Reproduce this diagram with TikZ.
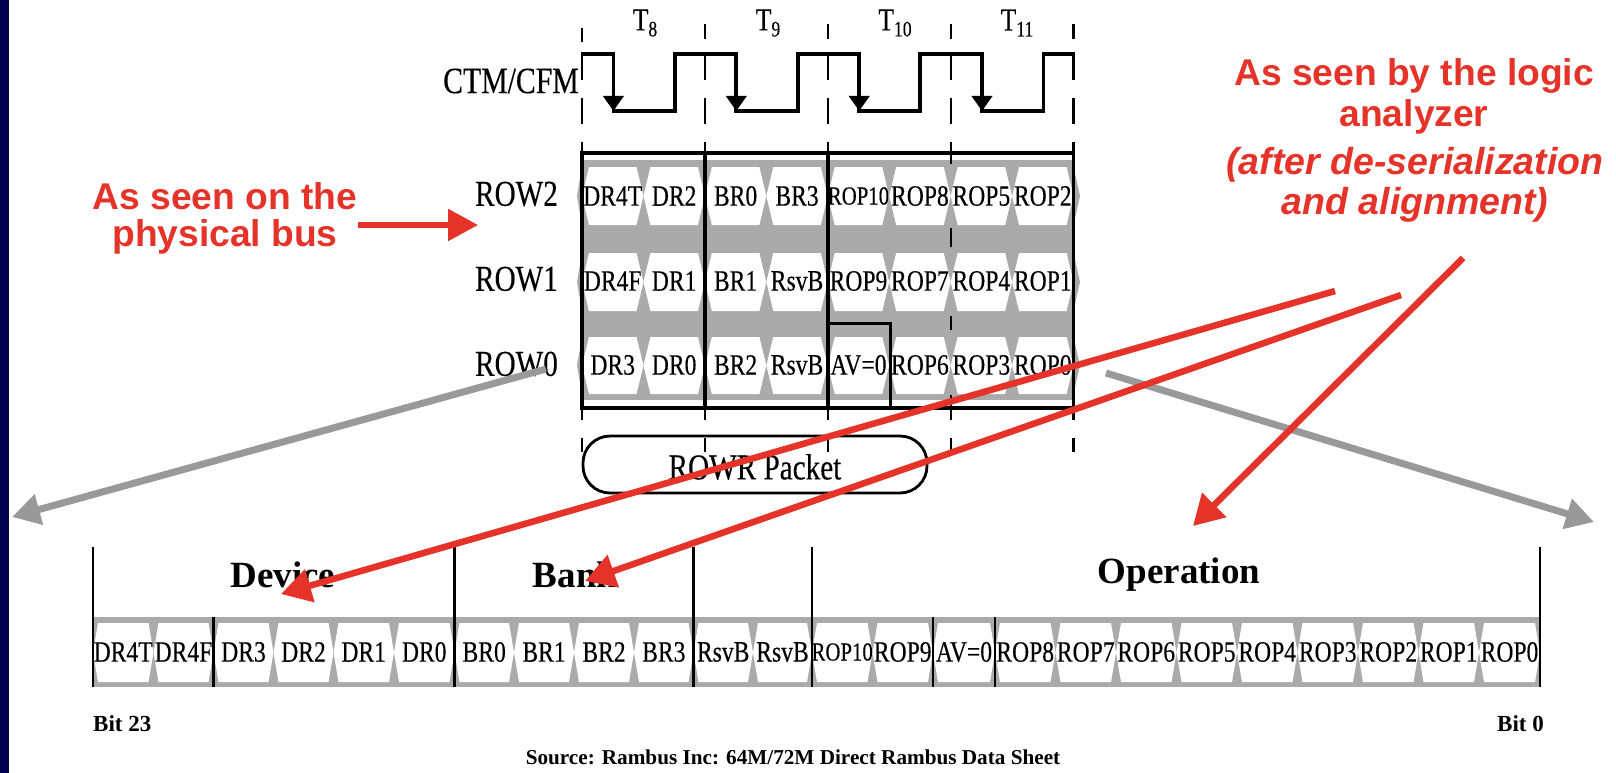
\documentclass[tikz,border=0pt]{standalone}
\usepackage{fontspec}
\usetikzlibrary{arrows.meta}
\setmainfont{Liberation Serif}
\newfontfamily\sq[FakeStretch=0.8,FakeBold=0.25]{Liberation Serif}
\newfontfamily\ar{Liberation Sans}
\definecolor{navy}{RGB}{0,0,80}
\definecolor{redx}{RGB}{230,51,41}
\definecolor{grayband}{RGB}{170,170,170}
\definecolor{grayarrow}{RGB}{153,153,153}
\newcommand{\fs}[1]{\fontsize{#1}{#1}\selectfont}
\newcommand{\tsub}[1]{\sq\fs{32}T\raisebox{-6pt}{\fs{22}#1}}
\tikzset{
  cell/.style={inner sep=0pt,font=\sq\fs{29.5}},
  cellsmall/.style={inner sep=0pt,font=\sq\fs{26}},
  rowlab/.style={inner sep=0pt,font=\sq\fs{36.5}},
  ctmlab/.style={inner sep=0pt,font=\sq\fs{37.2}},
  head/.style={inner sep=0pt,font=\bfseries\fs{37}},
  bitlab/.style={inner sep=0pt,font=\bfseries\fs{23}},
  redlab/.style={inner sep=0pt,text=redx,font=\ar\bfseries\fs{37.2}},
  redit/.style={inner sep=0pt,text=redx,font=\ar\bfseries\itshape\fs{37.5}},
  clock/.style={line width=3.8pt,line cap=butt,line join=miter},
  thickline/.style={line width=3.6pt},
  dashline/.style={line width=2.4pt},
  divider/.style={line width=2.4pt},
  redarrow/.style={draw=redx,line width=6.5pt,-{Triangle[length=30pt,width=33pt]}},
  redshort/.style={draw=redx,line width=5.5pt,-{Triangle[length=30pt,width=31pt]}},
  grayarr/.style={draw=grayarrow,line width=7pt,-{Triangle[length=28pt,width=30pt]}},
  clockarr/.style={line width=3.8pt,-{Triangle[length=15pt,width=20pt]}}
}
\begin{document}
\begin{tikzpicture}[x=1pt,y=-1pt]
\useasboundingbox (0,0) rectangle (1616,773);
\fill[white] (0,0) rectangle (1616,773);
\fill[navy] (0,0) rectangle (9,773);

% upper gray band and hexagons
\fill[grayband] (582,160) rectangle (1073.5,400);
\foreach \t/\m/\bt in {167/196/225,253/282/311,337/365.5/394}{
  \fill[grayband] (582,\t) -- (577,\m) -- (582,\bt) -- cycle;
  \fill[grayband] (1073.5,\t) -- (1080,\m) -- (1073.5,\bt) -- cycle;
  \foreach \i in {0,...,7}{
    \fill[white] ({582+61.44*\i},\m) -- ({589+61.44*\i},\t) -- ({636.5+61.44*\i},\t) -- ({643.44+61.44*\i},\m) -- ({636.5+61.44*\i},\bt) -- ({589+61.44*\i},\bt) -- cycle;
  }
}

% lower band and hexagons
\fill[grayband] (93,617) rectangle (1540,687);
\foreach \a/\b in {93/153.5,153.5/213.5,213.5/273.5,273.5/333.5,333.5/394,394/454.5,454.5/514,514/574,574/634,634/693.5,693.5/753,753/812,812/872.5,872.5/933,933/995,995/1055.5,1055.5/1116,1116/1176.5,1176.5/1237,1237/1297.5,1297.5/1358,1358/1418.5,1418.5/1479,1479/1540}{
  \fill[white] (\a,652.5) -- (\a+5,623) -- (\b-5,623) -- (\b,652.5) -- (\b-5,682) -- (\a+5,682) -- cycle;
}

% dashed time lines
\foreach \x/\aa/\ab in {582/28/42,705/24/39,828/24/39,951/24/39,1073.5/24/39}{
  \draw[dashline] (\x,\aa) -- (\x,\ab);
  \draw[dashline] (\x,56) -- (\x,80);
  \draw[dashline] (\x,98) -- (\x,124);
  \draw[dashline] (\x,142) -- (\x,153);
  \draw[dashline] (\x,408) -- (\x,420);
  \draw[dashline] (\x,438) -- (\x,452);
}
\draw[dashline] (951,153) -- (951,164);
\draw[dashline] (951,228) -- (951,247);
\draw[dashline] (951,316) -- (951,330);
\draw[dashline] (951,395) -- (951,408);

% clock
\draw[clock] (581,54) -- (613.4,54) -- (613.4,111) -- (674.8,111) -- (674.8,54) -- (736.3,54) -- (736.3,111) -- (797.7,111) -- (797.7,54) -- (859.2,54) -- (859.2,111) -- (919.8,111) -- (919.8,54) -- (982,54) -- (982,111) -- (1043.5,111) -- (1043.5,54) -- (1075,54);
\foreach \x/\n in {613.4/a,736.3/b,859.2/c,982/d}{
  \coordinate (ck\n s) at (\x,70);
  \coordinate (ck\n e) at (\x,111);
  \draw[clockarr] (ck\n s) -- (ck\n e);
}

% timing box
\draw[thickline] (580.3,153) -- (1075.2,153);
\draw[thickline] (580.3,408) -- (1075.2,408);
\foreach \x in {582,705,828,1073.5}{ \draw[thickline] (\x,153) -- (\x,408); }
\draw[line width=3pt] (828,323) -- (890,323) -- (890,408);

% labels
\node[inner sep=0pt] (t8) at (645,23) {\tsub{8}};
\node[inner sep=0pt] (t9) at (768,23) {\tsub{9}};
\node[inner sep=0pt] (t10) at (895,23) {\tsub{10}};
\node[inner sep=0pt] (t11) at (1017,23) {\tsub{11}};
\node[ctmlab,anchor=east] (ctm) at (579,81) {CTM/CFM};
\node[rowlab] (row2) at (516.5,194) {ROW2};
\node[rowlab] (row1) at (516.5,279) {ROW1};
\node[rowlab] (row0) at (516.5,364) {ROW0};

\foreach \i/\t in {0/DR4T,1/DR2,2/BR0,3/BR3,5/ROP8,6/ROP5,7/ROP2}{
  \node[cell] (rb\i) at ({612.7+61.44*\i},196) {\t};
}
\node[cellsmall] (rb4) at (858.5,196) {ROP10};
\foreach \i/\t in {0/DR4F,1/DR1,2/BR1,3/RsvB,4/ROP9,5/ROP7,6/ROP4,7/ROP1}{
  \node[cell] (ra\i) at ({612.7+61.44*\i},281) {\t};
}
\foreach \i/\t in {0/DR3,1/DR0,2/BR2,3/RsvB,4/AV=0,5/ROP6,6/ROP3,7/ROP0}{
  \node[cell] (rz\i) at ({612.7+61.44*\i},365) {\t};
}

\foreach \c/\t [count=\n] in {123.2/DR4T,183.5/DR4F,243.5/DR3,303.5/DR2,363.7/DR1,424.2/DR0,484.2/BR0,544/BR1,604/BR2,663.8/BR3,723.2/RsvB,782.5/RsvB,902.7/ROP9,964/AV=0,1025.2/ROP8,1085.7/ROP7,1146.2/ROP6,1206.7/ROP5,1267.2/ROP4,1327.7/ROP3,1388.2/ROP2,1448.7/ROP1,1509.5/ROP0}{
  \node[cell] (low\n) at (\c,652) {\t};
}
\node[cellsmall] (lowrop) at (842.2,652) {ROP10};

% lower dividers
\foreach \x in {93,454.5,693.5,812,1540}{ \draw[divider] (\x,547) -- (\x,687); }
\foreach \x in {213.5,933,995}{ \draw[divider] (\x,617) -- (\x,687); }
\node[head] (device) at (283,575) {Device};
\node[head] (bank) at (575,575) {Bank};
\node[head] (oper) at (1179,575) {Operation};
\node[bitlab,anchor=west] (bit23) at (93,724) {Bit 23};
\node[bitlab,anchor=east] (bit0) at (1544,724) {Bit 0};
\node[inner sep=0pt,font=\bfseries\fs{21.2}] (source) at (793,757) {Source: Rambus Inc: 64M/72M Direct Rambus Data Sheet};

% packet
\draw[line width=2.8pt,rounded corners=27pt] (583,436) rectangle (927,493);
\coordinate (pk) at (755,467);
\node[rowlab] (packet) at (pk) {ROWR Packet};

% red text
\node[redlab] (phys1) at (225,196) {As seen on the};
\node[redlab] (phys2) at (225,237) {physical bus};
\node[redlab] (la1) at (1414,76) {As seen by the logic};
\node[redlab] (la2) at (1414,117) {analyzer};
\node[redit] (la3) at (1415,165) {(after de-serialization};
\node[redit] (la4) at (1415,205) {and alignment)};

% big arrows
\coordinate (g1s) at (546,369); \coordinate (g1e) at (12,517);
\coordinate (g2s) at (1106,373); \coordinate (g2e) at (1594,522);
\draw[grayarr] (g1s) -- (g1e);
\draw[grayarr] (g2s) -- (g2e);
\coordinate (r0s) at (358,225); \coordinate (r0e) at (478,225);
\coordinate (r1s) at (1335,291); \coordinate (r1e) at (281,594);
\coordinate (r2s) at (1401,295); \coordinate (r2e) at (585,581);
\coordinate (r3s) at (1463,258); \coordinate (r3e) at (1193,526);
\draw[redshort] (r0s) -- (r0e);
\draw[redarrow] (r1s) -- (r1e);
\draw[redarrow] (r2s) -- (r2e);
\draw[redarrow] (r3s) -- (r3e);
\end{tikzpicture}
\end{document}
